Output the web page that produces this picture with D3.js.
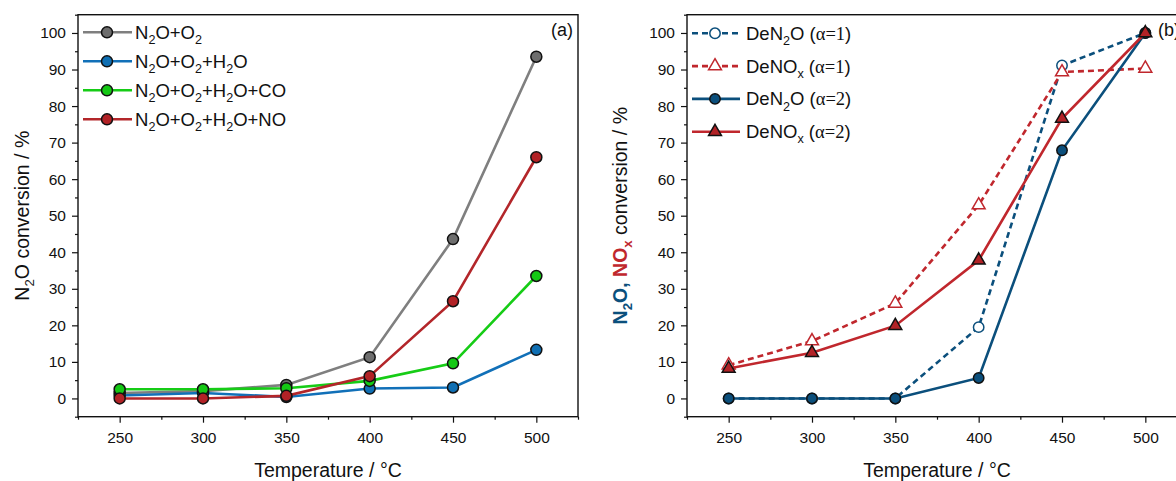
<!DOCTYPE html>
<html>
<head>
<meta charset="utf-8">
<script src="https://cdn.jsdelivr.net/npm/d3@7"></script>
<style>
  body { margin: 0; background: #fff; }
  svg text { font-family: "Liberation Sans", Arial, sans-serif; fill: #111; }
</style>
</head>
<body>
<div id="chart"></div>
<script>
// temperatures (°C)
const temps = [250, 300, 350, 400, 450, 500]
const xTicks = [250, 300, 350, 400, 450, 500]
const yTicks = [0, 10, 20, 30, 40, 50, 60, 70, 80, 90, 100]

// panel (a): N2O conversion / %
const n2oO2 = [1.5, 2.0, 3.7, 11.3, 43.6, 93.5]
const n2oO2H2o = [0.8, 1.5, 0.4, 2.7, 3.0, 13.3]
const n2oO2H2oCo = [2.5, 2.5, 2.8, 4.8, 9.6, 33.5]
const n2oO2H2oNo = [0.0, 0.0, 0.7, 6.1, 26.6, 66.0]
const labelsA = ['N{2}O+O{2}', 'N{2}O+O{2}+H{2}O', 'N{2}O+O{2}+H{2}O+CO', 'N{2}O+O{2}+H{2}O+NO']

// panel (b): DeN2O / DeNOx conversion / %
const deN2oA1 = [0, 0, 0, 19.5, 91.1, 100]
const deNoxA1 = [9.1, 15.7, 26.0, 52.9, 89.3, 90.3]
const deN2oA2 = [0, 0, 0, 5.6, 67.9, 100]
const deNoxA2 = [8.2, 12.5, 19.9, 37.8, 76.6, 100]
const labelsB = ['DeN{2}O', 'DeNO{x}', 'DeN{2}O', 'DeNO{x}']
const alphas = [1, 1, 2, 2]

const W = 1176, H = 481
const svg = d3.select('#chart').append('svg')
  .attr('width', W).attr('height', H)

const yTop = 14.7, yBot = 416.7, pw = 500

// writes "N{2}O" style text with subscripts into a <text>
const rich = (text, str, size, extra = {}) => {
  const parts = str.split(/(\{[^}]*\})/).filter(s => s.length)
  let shift = 0
  parts.forEach(p => {
    const isSub = p[0] === '{'
    const t = text.append('tspan').text(isSub ? p.slice(1, -1) : p)
    if (extra.fill) t.style('fill', extra.fill)
    if (extra.weight) t.style('font-weight', extra.weight)
    if (isSub) {
      t.attr('font-size', size * 0.68).attr('dy', size * 0.28)
      shift = size * 0.28
    } else {
      if (shift) t.attr('dy', -shift)
      shift = 0
    }
  })
  return shift
}

const panel = (left, name) => {
  const g = svg.append('g').attr('transform', `translate(${left},0)`)
  const x = d3.scaleLinear().domain([225, 525]).range([0, pw])
  const y = d3.scaleLinear().domain([-5, 105]).range([yBot, yTop])

  g.append('g').attr('transform', `translate(0,${yBot})`)
    .call(d3.axisBottom(x).tickValues(xTicks).tickSize(6).tickPadding(9).tickFormat(d3.format('d')))
  g.append('g').attr('transform', `translate(0,${yBot})`)
    .call(d3.axisBottom(x).tickValues(d3.range(225, 526, 50)).tickSize(3).tickFormat(''))
  g.append('g')
    .call(d3.axisLeft(y).tickValues(yTicks).tickSize(6).tickPadding(6))
  g.append('g')
    .call(d3.axisLeft(y).tickValues(d3.range(-5, 106, 10)).tickSize(3).tickFormat(''))
  g.selectAll('.domain').remove()
  g.selectAll('.tick line').attr('stroke', '#111').attr('stroke-width', 1.2)
  g.selectAll('.tick text').style('font-size', '15.5px').style('font-family', '"Liberation Sans", Arial, sans-serif').attr('fill', '#111')

  g.append('rect')
    .attr('x', 0).attr('y', yTop).attr('width', pw).attr('height', yBot - yTop)
    .attr('fill', 'none').attr('stroke', '#111').attr('stroke-width', 1.4)

  g.append('text')
    .attr('x', pw / 2).attr('y', 477)
    .attr('text-anchor', 'middle')
    .style('font-size', '19.5px')
    .text('Temperature / °C')

  g.append('text')
    .attr('x', name === '(a)' ? pw - 5 : pw - 29).attr('y', 36)
    .attr('text-anchor', name === '(a)' ? 'end' : 'start')
    .style('font-size', '18px')
    .text(name)

  return { g, x, y }
}

// ---------- panel (a)
const A = panel(78, '(a)')
const seriesA = [n2oO2, n2oO2H2o, n2oO2H2oCo, n2oO2H2oNo]
const lineColA = ['#7f7f7f', '#1170b8', '#16cc16', '#b3262a']
const fillA = ['#6e6e6e', '#0f6fb3', '#14c814', '#b22226']

const lineA = d3.line().x((d, i) => A.x(temps[i])).y(d => A.y(d))
seriesA.forEach((s, k) => {
  A.g.append('path').datum(s)
    .attr('d', lineA).attr('fill', 'none')
    .attr('stroke', lineColA[k]).attr('stroke-width', 2.6)
  A.g.selectAll(null).data(s).enter().append('circle')
    .attr('cx', (d, i) => A.x(temps[i])).attr('cy', d => A.y(d))
    .attr('r', 5.5).attr('fill', fillA[k])
    .attr('stroke', '#111').attr('stroke-width', 1.5)
})

// legend (a)
labelsA.forEach((lab, k) => {
  const ry = 32.3 + k * 29
  const lg = A.g.append('g').attr('transform', `translate(0,${ry})`)
  lg.append('line').attr('x1', 5).attr('x2', 54)
    .attr('stroke', lineColA[k]).attr('stroke-width', 2.6)
  lg.append('circle').attr('cx', 29).attr('r', 5.5).attr('fill', fillA[k])
    .attr('stroke', '#111').attr('stroke-width', 1.5)
  const t = lg.append('text').attr('x', 57).attr('y', 6.5).style('font-size', '18.5px')
  rich(t, lab, 18.5)
})

// y label (a)
const ylA = svg.append('text')
  .attr('transform', `translate(29,${(yTop + yBot) / 2}) rotate(-90)`)
  .attr('text-anchor', 'middle')
  .style('font-size', '19.5px')
rich(ylA, 'N{2}O conversion / %', 19.5)

// ---------- panel (b)
const B = panel(687, '(b)')
const blueB = '#0b4f7c', redB = '#c0272d'
const seriesB = [deN2oA1, deNoxA1, deN2oA2, deNoxA2]
const colB = [blueB, redB, blueB, redB]
const dashB = ['6,4', '6,4', null, null]
const shapeB = ['circle', 'tri', 'circle', 'tri']
const openB = [true, true, false, false]
const fillB = ['#fff', '#fff', '#0b4f7c', '#b22226']

const tri = d3.symbol().type(d3.symbolTriangle).size(72)
const marker = (sel, k) => {
  let m
  if (shapeB[k] === 'circle') m = sel.append('circle').attr('r', 5.2)
  else m = sel.append('path').attr('d', tri)
  m.attr('fill', fillB[k])
    .attr('stroke', openB[k] ? colB[k] : '#111')
    .attr('stroke-width', 1.5)
  return m
}

const lineB = d3.line().x((d, i) => B.x(temps[i])).y(d => B.y(d))
seriesB.forEach((s, k) => {
  B.g.append('path').datum(s)
    .attr('d', lineB).attr('fill', 'none')
    .attr('stroke', colB[k]).attr('stroke-width', 2.6)
    .attr('stroke-dasharray', dashB[k])
  s.forEach((d, i) => {
    const mg = B.g.append('g').attr('transform', `translate(${B.x(temps[i])},${B.y(d)})`)
    marker(mg, k)
  })
})

// legend (b)
labelsB.forEach((lab, k) => {
  const ry = 33.3 + k * 32.8
  const lg = B.g.append('g').attr('transform', `translate(0,${ry})`)
  lg.append('line').attr('x1', 5).attr('x2', 53)
    .attr('stroke', colB[k]).attr('stroke-width', 2.6)
    .attr('stroke-dasharray', dashB[k])
  marker(lg.append('g').attr('transform', 'translate(28,0)'), k)
  const t = lg.append('text').attr('x', 59).attr('y', 6.5).style('font-size', '18.5px')
  const sh = rich(t, lab, 18.5)
  t.append('tspan').attr('dy', sh ? -sh : null).text(' (')
  t.append('tspan').style('font-family', '"Liberation Serif", "Times New Roman", serif')
    .text(`α=${alphas[k]}`)
  t.append('tspan').text(')')
})

// y label (b), coloured parts
const ylB = svg.append('text')
  .attr('transform', `translate(627,${(yTop + yBot) / 2}) rotate(-90)`)
  .attr('text-anchor', 'middle')
  .style('font-size', '19.5px')
let sh = rich(ylB, 'N{2}O, ', 19.5, { fill: blueB, weight: 'bold' })
const s2 = ylB.append('tspan').style('fill', redB).style('font-weight', 'bold').text('NO')
if (sh) s2.attr('dy', -sh)
sh = rich(ylB, '{x}', 19.5, { fill: redB, weight: 'bold' })
ylB.append('tspan').attr('dy', -sh).text(' conversion / %')
</script>
</body>
</html>
